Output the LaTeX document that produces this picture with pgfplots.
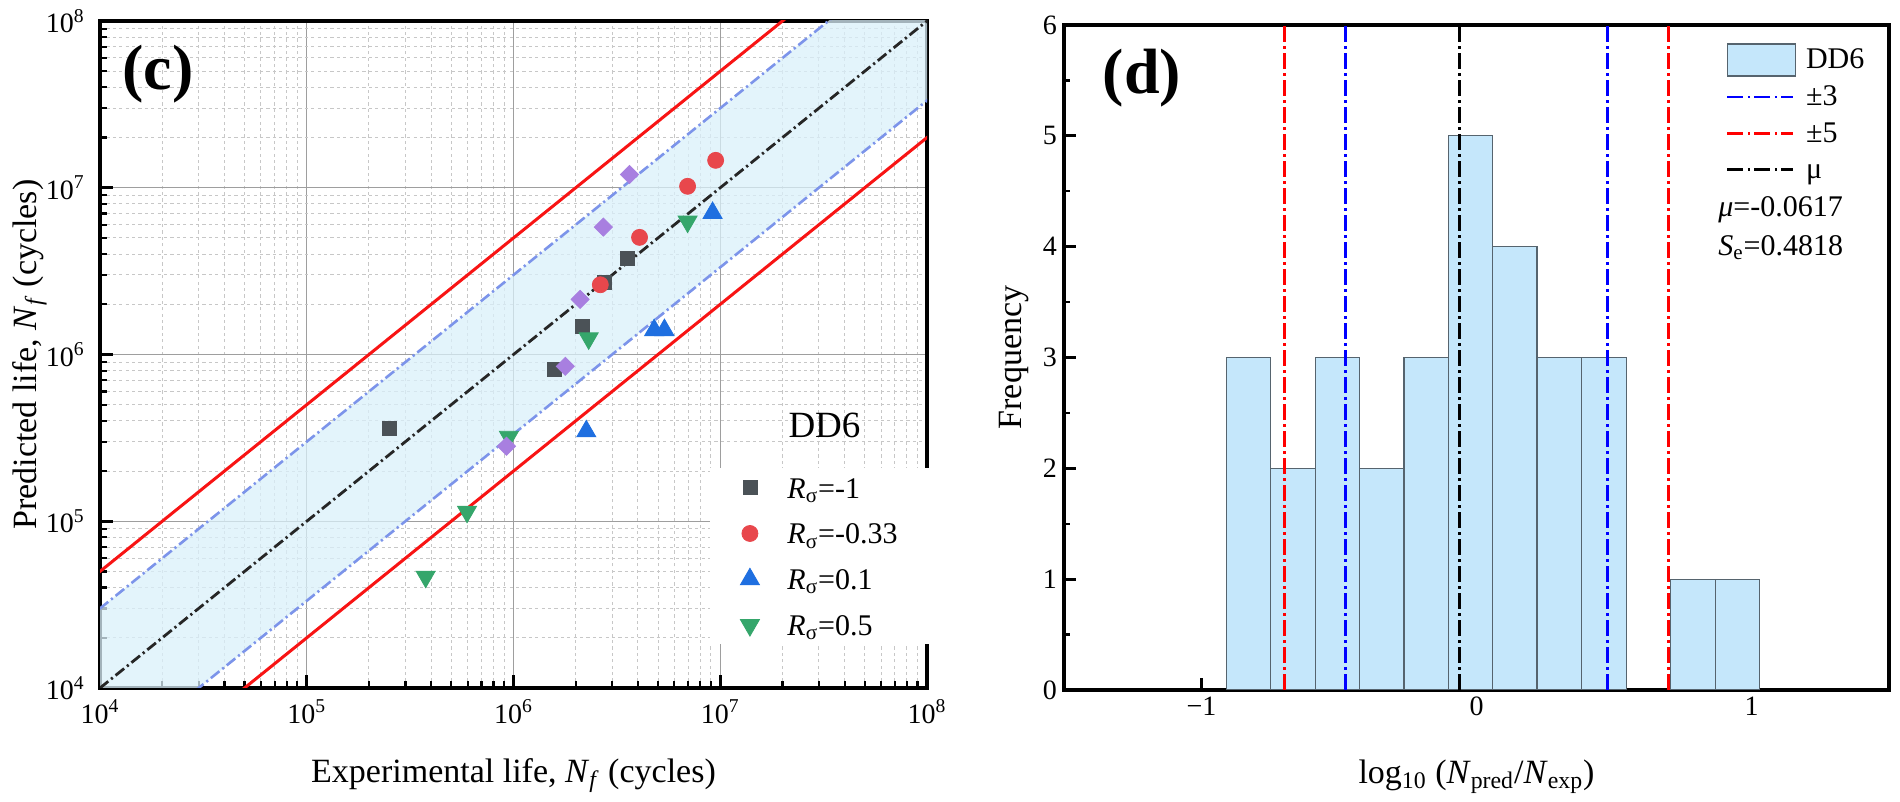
\documentclass[border=0pt]{standalone}
\usepackage{fontspec}
\setmainfont{Liberation Serif}
\usepackage{pgfplots}
\pgfplotsset{compat=1.18}
\definecolor{band}{HTML}{DAF0FA}
\definecolor{barfill}{HTML}{C5E7FB}
\definecolor{baredge}{HTML}{56646E}
\definecolor{csq}{HTML}{4B5257}
\definecolor{ccirc}{HTML}{E8474C}
\definecolor{ctri}{HTML}{1F6FE0}
\definecolor{ctrid}{HTML}{35A66B}
\definecolor{cdiam}{HTML}{A87FE0}
\definecolor{bluel}{HTML}{7C94EA}
\definecolor{redl}{HTML}{F81414}
\newcommand{\ep}[1]{10\textsuperscript{#1}}
\tikzset{
  ddotL/.style={dash pattern=on 5.5pt off 1.8pt on 1.1pt off 1.8pt},
  ddotR/.style={dash pattern=on 8pt off 2.2pt on 1.1pt off 2.2pt, line width=1.4pt},
}
\begin{document}
\begin{tikzpicture}[x=1pt,y=1pt]
\path[use as bounding box] (0,0) rectangle (950,401);
% ---------------- left panel (c)
\begin{axis}[
  at={(50pt,57pt)}, anchor=south west,
  scale only axis, width=413.5pt, height=333.5pt,
  xmode=log, ymode=log, log basis x=10, log basis y=10,
  xmin=1e4, xmax=1e8, ymin=1e4, ymax=1e8,
  xtick={1e4,1e5,1e6,1e7,1e8}, ytick={1e4,1e5,1e6,1e7,1e8},
  minor xtick={2e4,3e4,4e4,5e4,6e4,7e4,8e4,9e4,2e5,3e5,4e5,5e5,6e5,7e5,8e5,9e5,2e6,3e6,4e6,5e6,6e6,7e6,8e6,9e6,2e7,3e7,4e7,5e7,6e7,7e7,8e7,9e7},
  minor ytick={2e4,3e4,4e4,5e4,6e4,7e4,8e4,9e4,2e5,3e5,4e5,5e5,6e5,7e5,8e5,9e5,2e6,3e6,4e6,5e6,6e6,7e6,8e6,9e6,2e7,3e7,4e7,5e7,6e7,7e7,8e7,9e7},
  xticklabels={\ep{4},\ep{5},\ep{6},\ep{7},\ep{8}},
  yticklabels={\ep{4},\ep{5},\ep{6},\ep{7},\ep{8}},
  tick align=inside, xtick pos=left, ytick pos=left,
  major tick length=6.5pt, minor tick length=3.5pt,
  every major tick/.append style={line width=1.5pt, black},
  every minor tick/.append style={line width=1.1pt, black},
  axis line style={line width=2pt},
  grid=both,
  major grid style={color=black!38, line width=0.6pt},
  minor grid style={color=black!22, line width=0.5pt, dash pattern=on 1.6pt off 1.6pt},
  tick label style={font=\fontsize{14}{16}\selectfont},
  xticklabel style={inner sep=1pt, yshift=-4.7pt},
  yticklabel style={inner sep=1pt, xshift=-6.5pt},
  label style={font=\fontsize{17}{20}\selectfont},
  xlabel={Experimental life, \textit{N}\textsubscript{\textit{f}} (cycles)},
  ylabel={Predicted life, \textit{N}\textsubscript{\textit{f}} (cycles)},
  xlabel style={at={(axis description cs:0.5,-0.141)}, anchor=base},
  ylabel style={at={(axis description cs:-0.077,0.5)}, anchor=base},
  legend style={at={(0.7376,0.33)}, anchor=north west, draw=none, fill=white,
    inner xsep=15pt, inner ysep=1pt, row sep=5.5pt,
    font=\fontsize{15}{17}\selectfont, cells={anchor=west},
    nodes={inner ysep=2pt},
    /tikz/every odd column/.append style={column sep=12pt}},
]
\addplot[fill=band, fill opacity=0.75, draw=none, forget plot]
  coordinates {(1e3,3e3) (1e9,3e9) (1e9,3.3333e8) (1e3,3.3333e2)} -- cycle;
\addplot[redl, line width=1.5pt, forget plot] coordinates {(1e3,5e3) (1e9,5e9)};
\addplot[redl, line width=1.5pt, forget plot] coordinates {(1e3,2e2) (1e9,2e8)};
\addplot[bluel, line width=1.3pt, ddotL, forget plot] coordinates {(1e3,3e3) (1e9,3e9)};
\addplot[bluel, line width=1.3pt, ddotL, forget plot] coordinates {(1e3,3.3333e2) (1e9,3.3333e8)};
\addplot[black!85, line width=1.4pt, ddotL, forget plot] coordinates {(1e3,1e3) (1e9,1e9)};
% data
\addplot[only marks, mark=square*, mark size=3.5pt, color=csq] coordinates {
  (2.51e5,3.61e5) (1.585e6,8.15e5) (2.16e6,1.47e6) (2.74e6,2.72e6) (3.55e6,3.79e6)};
\addlegendentry{\strut\textit{R}\textsubscript{σ}=-1}
\addplot[only marks, mark=*, mark size=4pt, color=ccirc] coordinates {
  (2.63e6,2.62e6) (4.07e6,5.04e6) (6.95e6,1.02e7) (9.5e6,1.46e7)};
\addlegendentry{\strut\textit{R}\textsubscript{σ}=-0.33}
\addplot[only marks, mark=triangle*, mark size=5.5pt, color=ctri] coordinates {
  (2.25e6,3.46e5) (4.79e6,1.40e6) (5.37e6,1.40e6) (9.18e6,7.06e6)};
\addlegendentry{\strut\textit{R}\textsubscript{σ}=0.1}
\addplot[only marks, mark=triangle*, mark size=5.5pt, mark options={rotate=180}, color=ctrid] coordinates {
  (2.31e6,1.25e6) (6.95e6,6.27e6) (9.5e5,3.21e5) (5.96e5,1.14e5) (3.76e5,4.65e4)};
\addlegendentry{\strut\textit{R}\textsubscript{σ}=0.5}
\addplot[only marks, mark=square*, mark size=3.2pt, mark options={rotate=45}, color=cdiam, forget plot] coordinates {
  (3.64e6,1.20e7) (2.72e6,5.81e6) (2.10e6,2.14e6) (1.78e6,8.49e5) (9.25e5,2.82e5)};
\node[font=\bfseries\fontsize{32}{36}\selectfont] at (rel axis cs:0.070,0.92) {(c)};
\node[font=\fontsize{18.5}{20}\selectfont] at (rel axis cs:0.876,0.394) {DD6};
\end{axis}
% ---------------- right panel (d)
\begin{axis}[
  /pgf/number format/assume math mode=true,
  at={(532pt,56pt)}, anchor=south west,
  scale only axis, width=412.5pt, height=332.5pt,
  xmin=-1.5, xmax=1.5, ymin=0, ymax=6,
  xtick={-1,0,1}, xticklabels={−1,0,1}, minor xtick={-0.5,0.5},
  ytick={0,1,2,3,4,5,6}, minor ytick={0.5,1.5,2.5,3.5,4.5,5.5},
  tick align=inside, xtick pos=left, ytick pos=left,
  major tick length=6pt, minor tick length=2.8pt,
  every major tick/.append style={line width=1.5pt, black},
  every minor tick/.append style={line width=1.2pt, black},
  axis line style={line width=2pt},
  tick label style={font=\fontsize{14}{16}\selectfont},
  label style={font=\fontsize{17}{20}\selectfont},
  xlabel={log\textsubscript{10} (\textit{N}\textsubscript{pred}/\textit{N}\textsubscript{exp})},
  ylabel={Frequency},
  xlabel style={at={(axis description cs:0.5,-0.141)}, anchor=base},
  ylabel style={at={(axis description cs:-0.051,0.5)}, anchor=base},
  legend style={at={(0.802,0.973)}, anchor=north west, draw=none, fill=none,
    inner xsep=0pt, inner ysep=0pt, row sep=2.2pt,
    font=\fontsize{15}{15}\selectfont, cells={anchor=west},
    nodes={inner sep=2pt},
    /tikz/every odd column/.append style={column sep=3pt}},
]
\addplot[ybar interval, fill=barfill, draw=baredge, line width=0.6pt,
  legend image code/.code={\draw[fill=barfill, draw=baredge, line width=0.6pt] (0pt,-8pt) rectangle (34pt,8pt);}]
  coordinates {(-0.910,3) (-0.748,2) (-0.586,3) (-0.426,2) (-0.264,3) (-0.102,5) (0.058,4) (0.220,3) (0.382,3) (0.544,0)};
\addlegendentry{\strut DD6}
\addplot[ybar interval, fill=barfill, draw=baredge, line width=0.6pt, forget plot]
  coordinates {(0.706,1) (0.868,1) (1.030,0)};
\addplot[blue, ddotR, legend image code/.code={\draw[blue, ddotR] (0pt,0pt) -- (33pt,0pt);}]
  coordinates {(-0.4771,0) (-0.4771,6)};
\addlegendentry{\strut ±3}
\addplot[blue, ddotR, forget plot] coordinates {(0.4771,0) (0.4771,6)};
\addplot[red, ddotR, legend image code/.code={\draw[red, ddotR] (0pt,0pt) -- (33pt,0pt);}]
  coordinates {(-0.699,0) (-0.699,6)};
\addlegendentry{\strut ±5}
\addplot[red, ddotR, forget plot] coordinates {(0.699,0) (0.699,6)};
\addplot[black, ddotR, legend image code/.code={\draw[black, ddotR] (0pt,0pt) -- (33pt,0pt);}]
  coordinates {(-0.0617,0) (-0.0617,6)};
\addlegendentry{\strut μ}
\node[font=\fontsize{15}{17}\selectfont, anchor=west, inner sep=0pt] at (rel axis cs:0.7927,0.722) {\textit{μ}=-0.0617};
\node[font=\fontsize{15}{17}\selectfont, anchor=west, inner sep=0pt] at (rel axis cs:0.7927,0.665) {\textit{S}\textsubscript{e}=0.4818};
\node[font=\bfseries\fontsize{32}{36}\selectfont] at (rel axis cs:0.0945,0.92) {(d)};
\end{axis}
\end{tikzpicture}
\end{document}
